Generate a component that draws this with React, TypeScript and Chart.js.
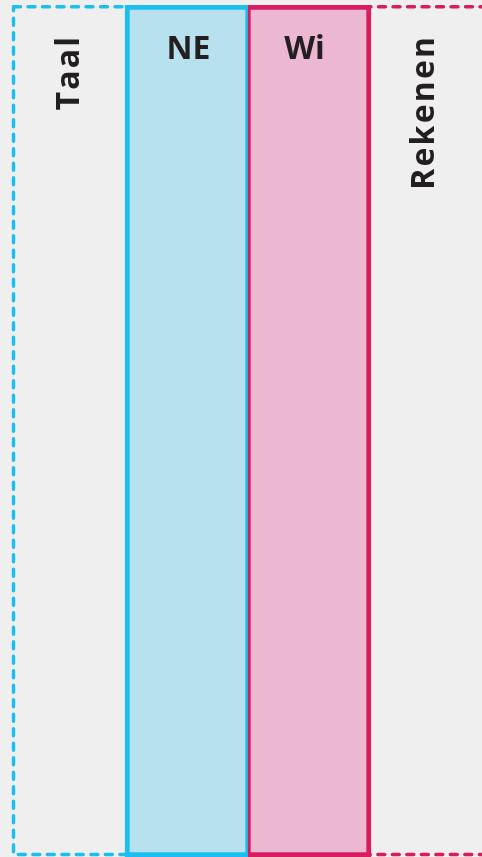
import { useEffect, useRef } from 'react';
import { Chart, registerables } from 'chart.js';

Chart.register(...registerables);

// ---- data ----
const categories = ['Taal', 'NE', 'Wi', 'Rekenen'];
const columnValues: (number | null)[] = [null, 100, 100, null];
const groupLabels = ['Taal', 'Rekenen'];
const groupFrom = [0, 2];
const groupTo = [1, 3];

// ---- styles ----
const BG = '#efefef';
const BLUE = '#1bbef0';
const BLUE_FILL = '#b8e1ef';
const PINK = '#d91c5f';
const PINK_FILL = '#ecb7d1';
const TEXT = '#231f20';
const FONT = '"Open Sans", "Liberation Sans", Arial, sans-serif';
const groupColors = [BLUE, PINK];
const groupOuterSide = ['left', 'right'];
const groupInset = [11.5, 7];
const groupTextDx = [10, 7];
const colFill = [BLUE_FILL, BLUE_FILL, PINK_FILL, PINK_FILL];
const colBorder = [BLUE, BLUE, PINK, PINK];
const labelDx = [0, 2, -5, 0];

const groupPlugin = {
  id: 'groupBoxes',
  beforeDatasetsDraw(chart: any) {
    const x = chart.scales.x;
    const y = chart.scales.y;
    const ctx = chart.ctx;
    const w = x.getPixelForValue(1) - x.getPixelForValue(0);
    const top = y.getPixelForValue(100) + 1.7;
    const bottom = y.getPixelForValue(0) - 2.5;
    groupLabels.forEach((label, i) => {
      let left = x.getPixelForValue(groupFrom[i]) - w / 2;
      let right = x.getPixelForValue(groupTo[i]) + w / 2;
      const outerIdx = groupOuterSide[i] === 'left' ? groupFrom[i] : groupTo[i];
      if (groupOuterSide[i] === 'left') left += groupInset[i];
      else right -= groupInset[i];
      ctx.save();
      ctx.setLineDash([7, 7.5]);
      ctx.lineWidth = 3.4;
      ctx.lineCap = 'round';
      ctx.lineJoin = 'round';
      ctx.strokeStyle = groupColors[i];
      ctx.strokeRect(left, top, right - left, bottom - top);
      ctx.restore();

      // rotated group label in the outer column
      const oc = x.getPixelForValue(outerIdx);
      const regionL = groupOuterSide[i] === 'left' ? left : oc - w / 2;
      const regionR = groupOuterSide[i] === 'left' ? oc + w / 2 : oc + w / 2 - 11.5;
      const cx = (regionL + regionR) / 2;
      ctx.save();
      ctx.translate(cx + groupTextDx[i], top + 28);
      ctx.rotate(-Math.PI / 2);
      ctx.font = `bold 32px ${FONT}`;
      (ctx as any).letterSpacing = '2.2px';
      ctx.fillStyle = TEXT;
      ctx.textAlign = 'right';
      ctx.textBaseline = 'alphabetic';
      ctx.fillText(label, 0, 0);
      ctx.restore();
    });
  },
  afterDatasetsDraw(chart: any) {
    const x = chart.scales.x;
    const y = chart.scales.y;
    const ctx = chart.ctx;
    const top = y.getPixelForValue(100);
    categories.forEach((cat, i) => {
      if (columnValues[i] == null) return;
      ctx.save();
      ctx.font = `bold 32px ${FONT}`;
      ctx.fillStyle = TEXT;
      ctx.textAlign = 'center';
      ctx.textBaseline = 'alphabetic';
      ctx.fillText(cat, x.getPixelForValue(i) + labelDx[i], top + 54);
      ctx.restore();
    });
  },
};

export default function App() {
  const ref = useRef<HTMLCanvasElement>(null);
  useEffect(() => {
    document.documentElement.style.background = BG;
    document.body.style.margin = '0';
    document.body.style.background = BG;
    document.body.style.overflow = 'hidden';
    const chart = new Chart(ref.current!, {
      type: 'bar',
      data: {
        labels: categories,
        datasets: [
          {
            data: columnValues as any,
            backgroundColor: colFill,
            borderColor: colBorder,
            borderSkipped: false,
            borderWidth: (c: any) =>
              c.dataIndex === 1
                ? { left: 5, right: 3, top: 5, bottom: 5 }
                : { left: 3, right: 5, top: 5, bottom: 5 },
            barPercentage: 1,
            categoryPercentage: 1,
          },
        ],
      },
      options: {
        responsive: false,
        animation: false,
        layout: { padding: { left: 2, right: 0, top: 5, bottom: 0 } },
        plugins: { legend: { display: false }, tooltip: { enabled: false } },
        scales: {
          x: { display: false, offset: true },
          y: { display: false, min: 0, max: 100 },
        },
      },
      plugins: [groupPlugin],
    });
    return () => chart.destroy();
  }, []);
  return (
    <div style={{ width: 494, height: 857, overflow: 'hidden' }}>
      <canvas ref={ref} width={494} height={857} style={{ display: 'block' }} />
    </div>
  );
}
